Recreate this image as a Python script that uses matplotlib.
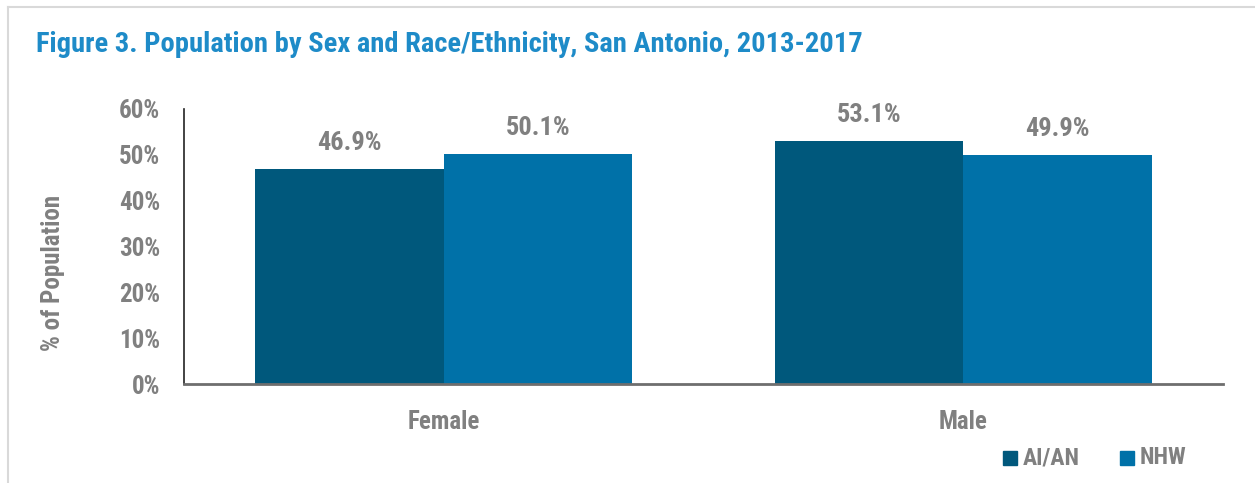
import numpy as np
import matplotlib
matplotlib.use("Agg")
from matplotlib import pyplot as plt
from matplotlib.lines import Line2D
from matplotlib.patches import Rectangle

categories = ["Female", "Male"]
series = ["AI/AN", "NHW"]
aian = [46.9, 53.1]
nhw = [50.1, 49.9]
yticks = [0, 10, 20, 30, 40, 50, 60]

colors = ("#00587C", "#0071A8")
gray = "#808080"
plt.rcParams["font.family"] = ["Roboto Condensed", "DejaVu Sans"]
plt.rcParams["font.weight"] = "bold"

W, H = 1255, 483
fig = plt.figure(figsize=(W / 100, H / 100), dpi=100)
ax = fig.add_axes([184 / W, (H - 384) / H, (1223 - 184) / W, (384 - 109) / H])

x = np.arange(len(categories))
bw = 0.363
for i, (vals, c) in enumerate(zip((aian, nhw), colors)):
    pos = x + (i - 0.5) * bw
    ax.bar(pos, vals, width=bw, color=c, edgecolor="none", zorder=2)
    for px, v in zip(pos, vals):
        ax.annotate(f"{v:.1f}%", (px, v), xytext=(0, 10), textcoords="offset points",
                    ha="center", va="bottom", fontsize=19, color=gray, fontweight="bold")

ax.set_xlim(-0.5, 1.5)
ax.set_ylim(0, 60)
ax.set_yticks(yticks)
ax.set_yticklabels([f"{t}%" for t in yticks], fontsize=18, color=gray, fontweight="bold")
ax.set_xticks(x)
ax.set_xticklabels(categories, fontsize=18, color=gray, fontweight="bold")
ax.tick_params(axis="both", length=0)
ax.tick_params(axis="y", pad=17)
ax.tick_params(axis="x", pad=19)
for s in ("top", "right"):
    ax.spines[s].set_visible(False)
ax.spines["left"].set_color("#222222")
ax.spines["left"].set_linewidth(1.2)
ax.spines["bottom"].set_color("#6E6E6E")
ax.spines["bottom"].set_linewidth(2)

fig.text(53 / W, 1 - 273 / H, "% of Population", rotation=90, ha="center", va="center",
         fontsize=18, color=gray, fontweight="bold")

fig.text(36 / W, 1 - 45 / H, "Figure 3. Population by Sex and Race/Ethnicity, San Antonio, 2013-2017",
         ha="left", va="center", fontsize=20.5, color="#1E8BC8", fontweight="bold")

# legend
leg_x = [1003, 1120]
for lx, name, c in zip(leg_x, series, colors):
    fig.patches.append(Rectangle((lx / W, 1 - 465 / H), 14 / W, 14 / H,
                                 transform=fig.transFigure, color=c))
    fig.text((lx + 20) / W, 1 - 458 / H, name, ha="left", va="center",
             fontsize=17, color=gray, fontweight="bold")

# frame
fig.lines.append(Line2D([8 / W, 1], [1 - 7 / H, 1 - 7 / H], transform=fig.transFigure,
                        color="#D9D9D9", lw=1.5))
fig.lines.append(Line2D([8 / W, 8 / W], [0, 1 - 7 / H], transform=fig.transFigure,
                        color="#D9D9D9", lw=1.5))

fig.savefig("out.png", dpi=100)
